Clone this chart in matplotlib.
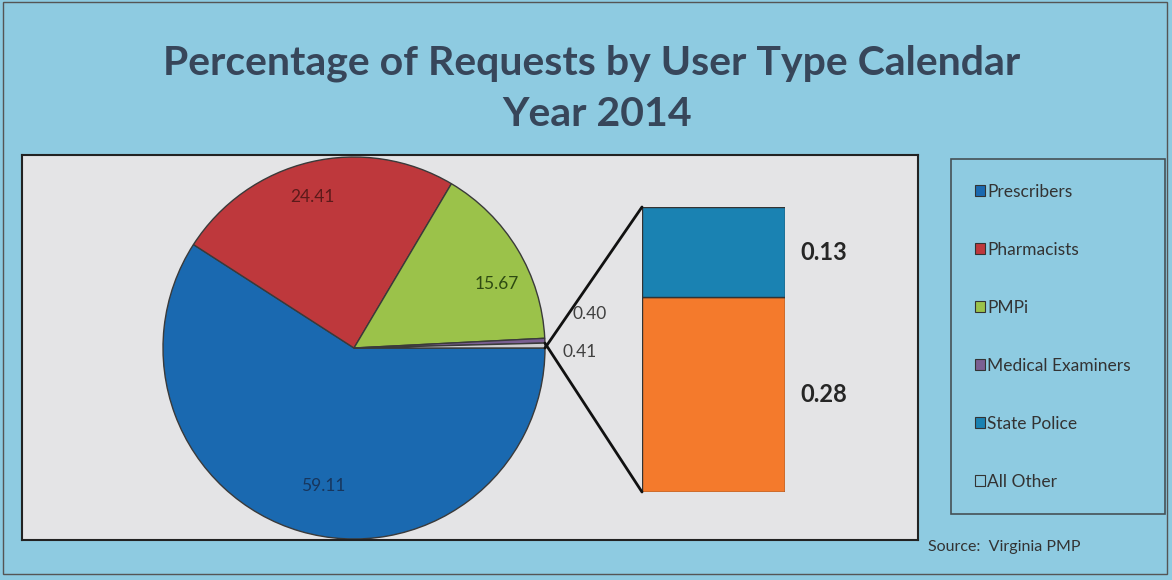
import matplotlib.pyplot as plt
from matplotlib.patches import Patch, Rectangle, ConnectionPatch
import numpy as np

plt.rcParams['font.family'] = ['Lato', 'DejaVu Sans']

# data
pie_labels = ["Prescribers", "Pharmacists", "PMPi", "Medical Examiners", "Other"]
pie_values = [59.11, 24.41, 15.67, 0.40, 0.41]
pie_colors = ["#1a69b0", "#be383c", "#9bc24a", "#7a5f92", "#cfcfd2"]

bar_labels = ["All Other", "State Police"]
bar_values = [0.28, 0.13]
bar_colors = ["#f47a2c", "#1a82b2"]

legend_labels = ["Prescribers", "Pharmacists", "PMPi", "Medical Examiners",
                 "State Police", "All Other"]
legend_colors = ["#1a69b0", "#be383c", "#9bc24a", "#7a5f92", "#1a82b2", "none"]

W, H = 1172, 580
bg = "#8ecbe1"
fig = plt.figure(figsize=(W / 100, H / 100), dpi=100, facecolor=bg)

# outer frame
fig.patches.append(Rectangle((3 / W, 6 / H), 1164 / W, 572 / H, transform=fig.transFigure,
                             fill=False, edgecolor="#555555", lw=1))

fig.text(592 / W, 1 - 63 / H, "Percentage of Requests by User Type Calendar",
         ha="center", va="center", fontsize=29.5, fontweight="bold", color="#37465a")
fig.text(597 / W, 1 - 115 / H, "Year 2014",
         ha="center", va="center", fontsize=29.5, fontweight="bold", color="#37465a")

# plot area (units = pixels)
px0, py0, pw, ph = 22, 40, 896, 385
ax = fig.add_axes([px0 / W, py0 / H, pw / W, ph / H])
ax.set_facecolor("#e4e4e6")
ax.set_xticks([])
ax.set_yticks([])
for s in ax.spines.values():
    s.set_color("#222222")
    s.set_linewidth(1.5)

cx, cy, r = 332, 192, 191
wedges, _ = ax.pie(pie_values, colors=pie_colors, startangle=0, counterclock=False,
                   center=(cx, cy), radius=r, frame=True,
                   wedgeprops=dict(edgecolor="#3a3a3a", linewidth=1))
ax.set_xlim(0, pw)
ax.set_ylim(0, ph)
ax.set_aspect("equal")

# inside labels
label_r = [0.74, 0.82, 0.82]
label_da = [4, 2, -7]
label_col = ["#17365d", "#5c1a1a", "#2e4a12"]
for w, v, fr, da, c in zip(wedges[:3], pie_values[:3], label_r, label_da, label_col):
    ang = np.deg2rad((w.theta1 + w.theta2) / 2 + da)
    ax.text(cx + fr * r * np.cos(ang), cy + fr * r * np.sin(ang), f"{v:.2f}",
            ha="center", va="center", fontsize=12.5, color=c)

# outside labels for small slices
ax.text(cx + 1.235 * r, cy + 0.18 * r, f"{pie_values[3]:.2f}", ha="center", va="center",
        fontsize=12.5, color="#404040")
ax.text(cx + 1.18 * r, cy - 0.02 * r, f"{pie_values[4]:.2f}", ha="center", va="center",
        fontsize=12.5, color="#404040")

# bar of pie
bx = fig.add_axes([642 / W, (H - 492) / H, 143 / W, 285 / H])
bottom = 0
for v, c in zip(bar_values, bar_colors):
    bx.bar(0, v, bottom=bottom, width=1, color=c, edgecolor="#333333", linewidth=1)
    bx.text(0.605, bottom + v / 2, f"{v:.2f}", ha="left", va="center",
            fontsize=17, fontweight="bold", color="#262626")
    bottom += v
bx.set_xlim(-0.5, 0.5)
bx.set_ylim(0, sum(bar_values))
bx.axis("off")

# connection lines
other = wedges[4]
for th, yb in [(other.theta1, sum(bar_values)), (other.theta2, 0)]:
    a = np.deg2rad(th)
    con = ConnectionPatch(xyA=(-0.5, yb), coordsA=bx.transData,
                          xyB=(cx + r * np.cos(a), cy + r * np.sin(a)), coordsB=ax.transData,
                          color="#111111", linewidth=2)
    fig.add_artist(con)

# legend
handles = [Patch(facecolor=c, edgecolor="#333333", linewidth=0.8) for c in legend_colors]
leg = fig.legend(handles, legend_labels, loc="upper left",
                 bbox_to_anchor=(951 / W, 1 - 160 / H, 214 / W, 0.001), mode="expand",
                 fontsize=12.5, frameon=True, handlelength=0.55, handleheight=0.55,
                 handletextpad=0.15, labelspacing=2.42, borderpad=1.4, borderaxespad=0)
leg.get_frame().set_facecolor(bg)
leg.get_frame().set_edgecolor("#333333")
leg.get_frame().set_linewidth(1.2)
leg.get_frame().set_boxstyle("square", pad=0)
for t in leg.get_texts():
    t.set_color("#333333")

fig.text(928 / W, 1 - 547 / H, "Source:  Virginia PMP", ha="left", va="center",
         fontsize=11.5, color="#333333")

fig.savefig("out.png", dpi=100, facecolor=bg)
